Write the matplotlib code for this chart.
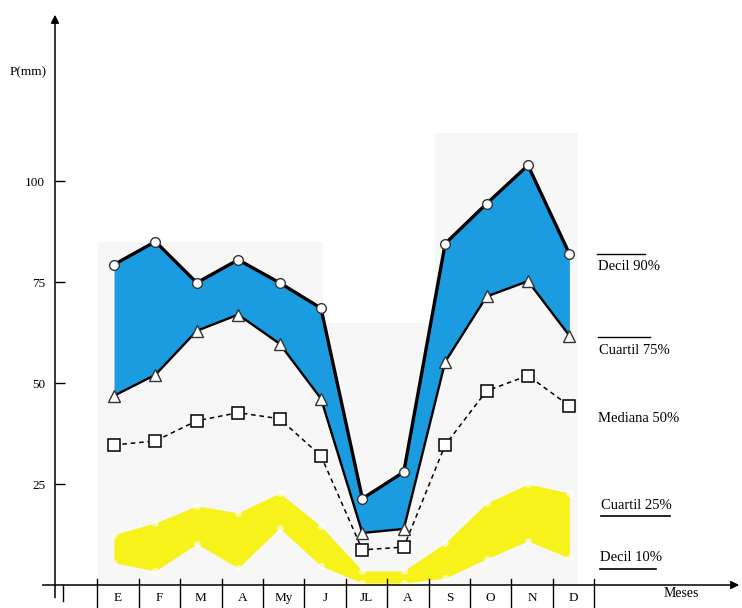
import numpy as np
import matplotlib
matplotlib.use("Agg")
import matplotlib.pyplot as plt

plt.rcParams['font.family'] = ['Liberation Serif', 'DejaVu Serif']

# datos (mm)
meses = ['E', 'F', 'M', 'A', 'My', 'J', 'JL', 'A', 'S', 'O', 'N', 'D']
decil90 = [79.4, 85.1, 74.9, 80.6, 74.9, 68.6, 21.4, 28.0, 84.6, 94.5, 104.0, 82.1]
cuartil75 = [46.9, 52.1, 63.0, 67.0, 59.8, 46.2, 12.9, 13.9, 55.3, 71.5, 75.3, 61.8]
mediana = [34.7, 35.7, 40.7, 42.7, 41.2, 32.0, 8.7, 9.4, 34.7, 48.1, 51.9, 44.4]
cuartil25 = [12.5, 15.4, 19.6, 17.9, 22.8, 14.6, 3.5, 3.5, 10.4, 20.3, 25.0, 22.8]
decil10 = [5.5, 3.5, 10.2, 4.2, 14.1, 4.7, 0.5, 0.5, 1.7, 6.5, 10.9, 6.7]
yticks = [25, 50, 75, 100]

x = np.arange(len(meses))

fig = plt.figure(figsize=(7.42, 6.08), dpi=100)
ax = fig.add_axes([55 / 742, 23 / 608, 687 / 742, 573 / 608])
ax.set_xlim(-1.425, 15.17)
ax.set_ylim(0, 142)
for s in ax.spines.values():
    s.set_visible(False)

# fondo gris muy claro del impreso
gris = '#f7f7f7'
ax.fill_between([-0.39, 5.05], 0, 85, color=gris, lw=0, zorder=0)
ax.fill_between([5.05, 7.75], 0, 65, color=gris, lw=0, zorder=0)
ax.fill_between([7.75, 11.2], 0, 112, color=gris, lw=0, zorder=0)

# banda amarilla (decil 10 - cuartil 25)
ax.fill_between(x, decil10, cuartil25, color='#f7f21a', lw=0, zorder=1)
ax.plot(x, cuartil25, 'o', ms=5, mfc='white', mec='none', alpha=0.6, zorder=2)
ax.plot(x, decil10, 'o', ms=5, mfc='white', mec='none', alpha=0.6, zorder=2)

# banda azul (cuartil 75 - decil 90)
ax.fill_between(x, cuartil75, decil90, color='#1b9ce0', lw=0, zorder=3)
ax.plot(x, decil90, '-', color='black', lw=2.4, zorder=4)
ax.plot(x, cuartil75, '-', color='black', lw=1.7, zorder=4)
ax.plot(x, decil90, 'o', ms=7, mfc='white', mec='#333333', mew=1, zorder=5)
ax.plot(x, cuartil75, '^', ms=8, mfc='white', mec='#333333', mew=1, zorder=5)

# mediana
ax.plot(x, mediana, '--', color='black', lw=1.1, dashes=(3, 2.5), zorder=4)
ax.plot(x, mediana, 's', ms=9, mfc='white', mec='black', mew=1.1, zorder=5)

# ejes con flechas
ax.annotate('', xy=(0, 1), xycoords='axes fraction', xytext=(0, -0.027),
            arrowprops=dict(arrowstyle='-|>', color='black', lw=1.1, mutation_scale=12))
ax.annotate('', xy=(1, 0), xycoords='axes fraction', xytext=(-0.022, 0),
            arrowprops=dict(arrowstyle='-|>', color='black', lw=1.1, mutation_scale=12))

ax.set_xticks([])
ax.set_yticks(yticks)
ax.set_yticklabels([str(t) for t in yticks])
ax.tick_params(axis='y', direction='in', length=7, width=1, labelsize=9.5, pad=7)

# casillas de los meses
bordes = np.arange(len(meses) + 1) - 0.4
for b in bordes:
    ax.plot([b, b], [1.5, -6.5], color='black', lw=1, clip_on=False)
ax.plot([-1.23, -1.23], [0, -4], color='black', lw=1, clip_on=False)
for i, m in enumerate(meses):
    ax.text(i + 0.1, -3.3, m, ha='center', va='center', fontsize=9.5, clip_on=False)

ax.text(-2.08, 127, 'P(mm)', ha='center', va='center', fontsize=9.5, clip_on=False)
ax.text(13.7, -2.0, 'Meses', ha='center', va='center', fontsize=10, clip_on=False)

# rotulos de la derecha
lab = dict(ha='left', va='center', fontsize=10.5)
ax.text(11.7, 78.9, 'Decil 90%', **lab)
ax.plot([11.67, 12.83], [82.1, 82.1], color='black', lw=1)
ax.text(11.72, 58.1, 'Cuartil 75%', **lab)
ax.plot([11.69, 12.95], [61.5, 61.5], color='black', lw=1)
ax.text(11.68, 41.2, 'Mediana 50%', **lab)
ax.text(11.76, 19.7, 'Cuartil 25%', **lab)
ax.plot([11.76, 13.43], [17.2, 17.2], color='black', lw=1.2)
ax.text(11.74, 6.8, 'Decil 10%', **lab)
ax.plot([11.74, 13.09], [4.0, 4.0], color='black', lw=1.2)

fig.savefig('out.png', dpi=100)
